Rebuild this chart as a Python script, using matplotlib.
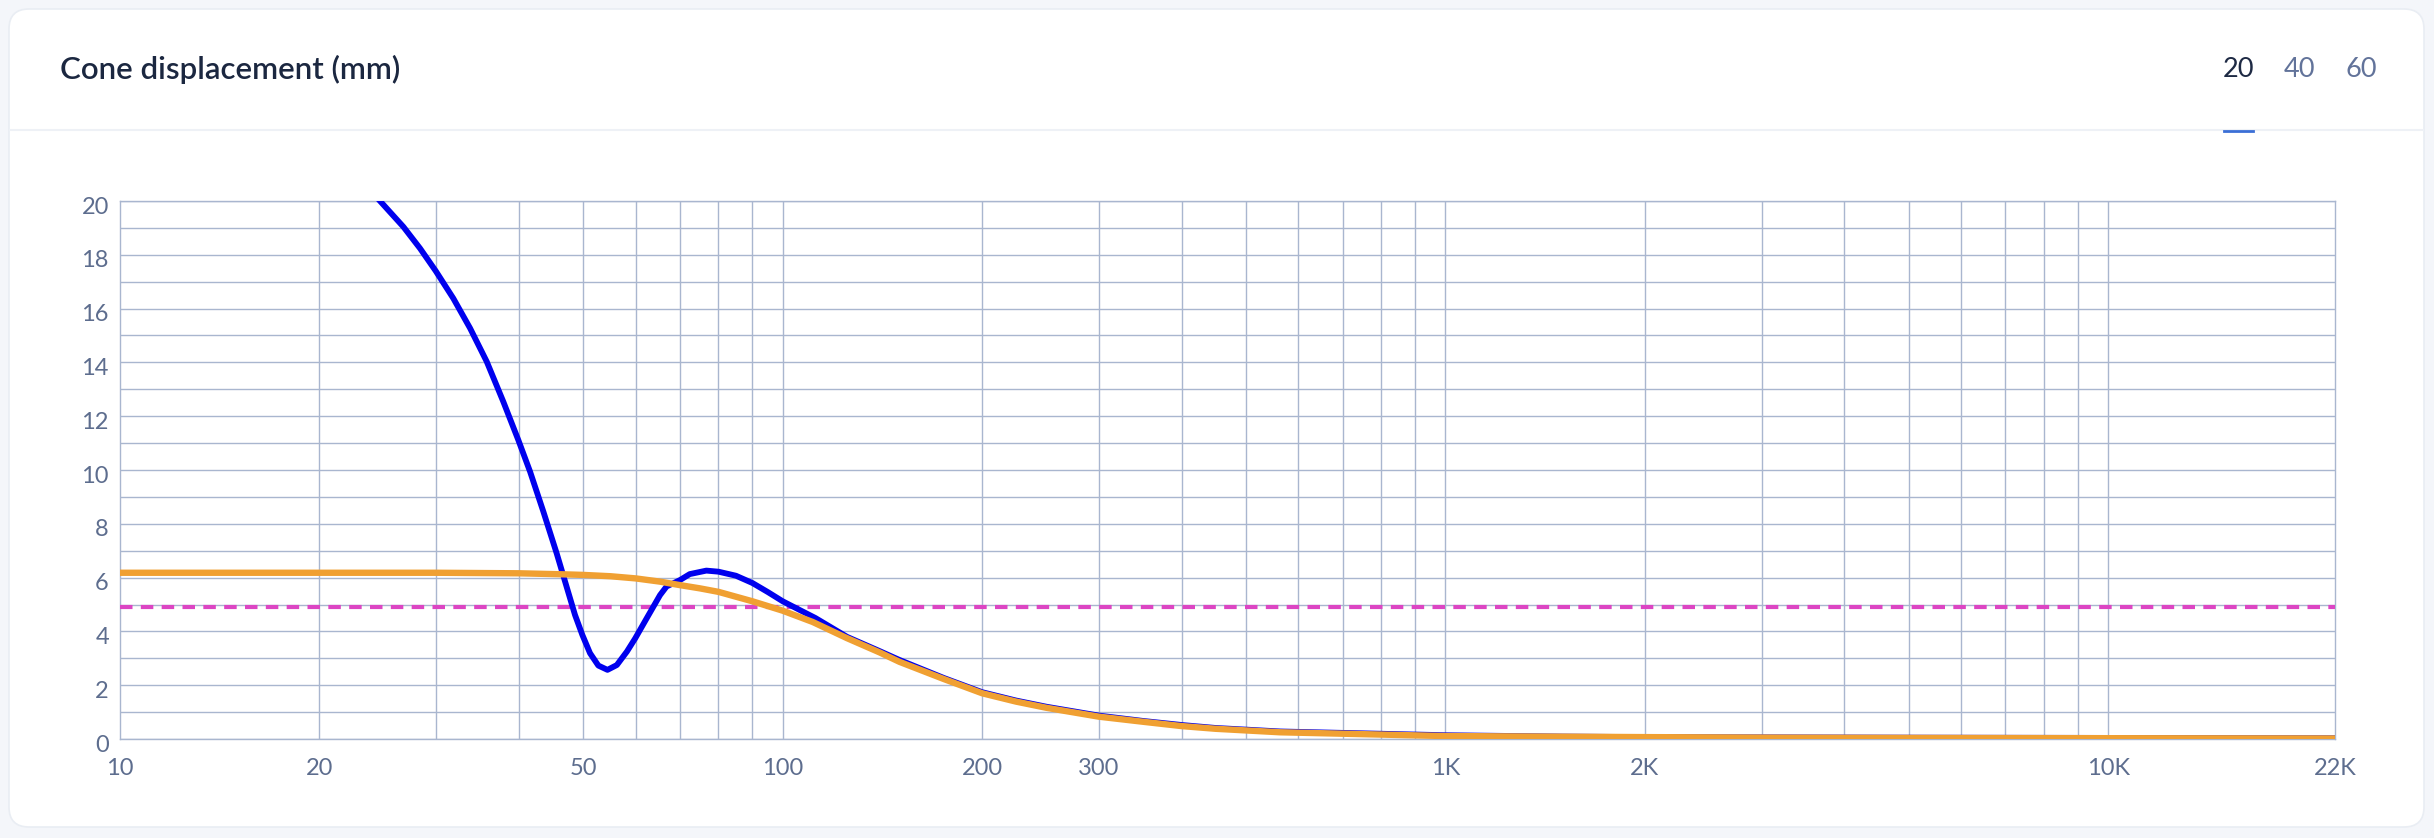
import matplotlib
matplotlib.use("Agg")
import matplotlib.pyplot as plt
from matplotlib.patches import FancyBboxPatch
from matplotlib.lines import Line2D
from matplotlib.transforms import ScaledTranslation

plt.rcParams['font.family'] = ['Lato', 'DejaVu Sans']

# data (frequency in Hz, displacement in mm)
blue_freq = [23.5, 24.68, 26.77, 28.36, 29.95, 31.84, 33.75, 35.76, 37.88, 39.9, 41.57,
             43.54, 45.6, 47.2, 48.6, 49.85, 51.2, 52.7, 54.4, 56.2, 58.2, 59.9, 62.35,
             65.3, 66.8, 70.0, 72.4, 76.7, 80.0, 85.0, 90.0, 95.0, 100, 106, 112, 125,
             140, 150, 175, 200, 225, 250, 300, 350, 400, 450, 563, 1000, 1500, 2000,
             3200, 5000, 10000, 22000]
blue_disp = [20.6, 20.0, 19.04, 18.24, 17.40, 16.38, 15.27, 14.03, 12.54, 11.12, 9.94,
             8.45, 6.90, 5.66, 4.61, 3.87, 3.19, 2.73, 2.57, 2.75, 3.25, 3.74, 4.49,
             5.35, 5.67, 5.91, 6.13, 6.26, 6.22, 6.07, 5.8, 5.46, 5.12, 4.8, 4.5, 3.8,
             3.27, 2.94, 2.27, 1.74, 1.43, 1.2, 0.87, 0.67, 0.52, 0.41, 0.28, 0.14, 0.09,
             0.07, 0.06, 0.05, 0.04, 0.03]

orange_freq = [10, 20, 30, 40, 47, 50, 55, 60, 65.3, 70, 75, 80, 90, 100, 111, 125, 140,
               150, 175, 200, 225, 250, 300, 350, 400, 450, 563, 1000, 2000, 3200, 5000,
               10000, 22000]
orange_disp = [6.18, 6.18, 6.18, 6.16, 6.12, 6.1, 6.05, 5.97, 5.85, 5.72, 5.6, 5.47,
               5.12, 4.77, 4.35, 3.75, 3.22, 2.87, 2.23, 1.70, 1.39, 1.16, 0.83, 0.64,
               0.48, 0.38, 0.25, 0.11, 0.07, 0.05, 0.04, 0.03, 0.02]

limit_disp = 4.9

x_ticks = [10, 20, 50, 100, 200, 300, 1000, 2000, 10000, 22000]
x_labels = ['10', '20', '50', '100', '200', '300', '1K', '2K', '10K', '22K']
x_grid = [20, 30, 40, 50, 60, 70, 80, 90, 100, 200, 300, 400, 500, 600, 700, 800, 900,
          1000, 2000, 3000, 4000, 5000, 6000, 7000, 8000, 9000, 10000]
y_ticks = list(range(0, 21, 2))
y_grid = list(range(0, 21))
tabs = ['20', '40', '60']

W, H = 2434, 838
fig = plt.figure(figsize=(W / 100, H / 100), dpi=100)
fig.patch.set_facecolor('#f4f6fa')
inch = fig.dpi_scale_trans

# card
card = FancyBboxPatch((9 / 100, (H - 827) / 100), (2424 - 9) / 100, (827 - 9) / 100,
                      boxstyle="round,pad=0,rounding_size=0.2", transform=inch,
                      facecolor='white', edgecolor='#e9edf3', linewidth=1.2, zorder=-5)
fig.patches.append(card)
fig.lines.append(Line2D([10 / 100, 2423 / 100], [(H - 130) / 100] * 2, transform=inch,
                        color='#eef1f6', linewidth=1.5, zorder=-4))

fig.text(60 / 100, (H - 69) / 100, 'Cone displacement (mm)', transform=inch,
         fontsize=22.5, fontweight='semibold', color='#1b2740', va='center', ha='left')
tab_x = [2238.5, 2299.5, 2361]
for t, tx in zip(tabs, tab_x):
    fig.text(tx / 100, (H - 69) / 100, t, transform=inch, fontsize=19.5,
             color='#1e2a44' if t == '20' else '#62739a', va='center', ha='center')
fig.lines.append(Line2D([2224 / 100, 2253 / 100], [(H - 131) / 100] * 2, transform=inch,
                        color='#3b6fd6', linewidth=2, zorder=-3))

# plot area
ax = fig.add_axes([120 / W, (H - 739) / H, 2215 / W, 538 / H])
ax.set_zorder(2)
ax.set_facecolor('none')
ax.set_xscale('log')

grid_c = '#a9b6cf'
ax.plot([10, 22000], [limit_disp, limit_disp], color='#dc45c3', linewidth=3.0,
        dashes=(3.0, 2.0), zorder=3)
ax.plot(blue_freq, blue_disp, color='#0000ee', linewidth=4.2, zorder=4,
        solid_joinstyle='round')
ax.plot(orange_freq, orange_disp, color='#f0a032', linewidth=4.6, zorder=5,
        solid_joinstyle='round')

ax.set_xlim(10, 22000)
ax.set_ylim(0, 20)
ax.xaxis.remove_overlapping_locs = False
ax.yaxis.remove_overlapping_locs = False
ax.set_xticks(x_ticks)
ax.set_xticklabels(x_labels)
ax.set_xticks(x_grid, minor=True)
ax.set_xticklabels([], minor=True)
ax.set_yticks(y_ticks)
ax.set_yticks(y_grid, minor=True)
ax.grid(False, which='major')
ax.grid(True, which='minor', axis='both', color=grid_c, linewidth=1.0)
ax.set_axisbelow(True)
ax.tick_params(which='both', length=0)
ax.tick_params(axis='x', which='major', pad=14, labelsize=17, labelcolor='#5d6d8e')
ax.tick_params(axis='y', which='major', pad=8, labelsize=17, labelcolor='#5d6d8e')
for s in ax.spines.values():
    s.set_color(grid_c)
    s.set_linewidth(1.0)

for lbl in ax.get_yticklabels():
    lbl.set_transform(lbl.get_transform() + ScaledTranslation(0, -4 / 100, inch))

fig.savefig('out.png', dpi=100, facecolor=fig.get_facecolor())
